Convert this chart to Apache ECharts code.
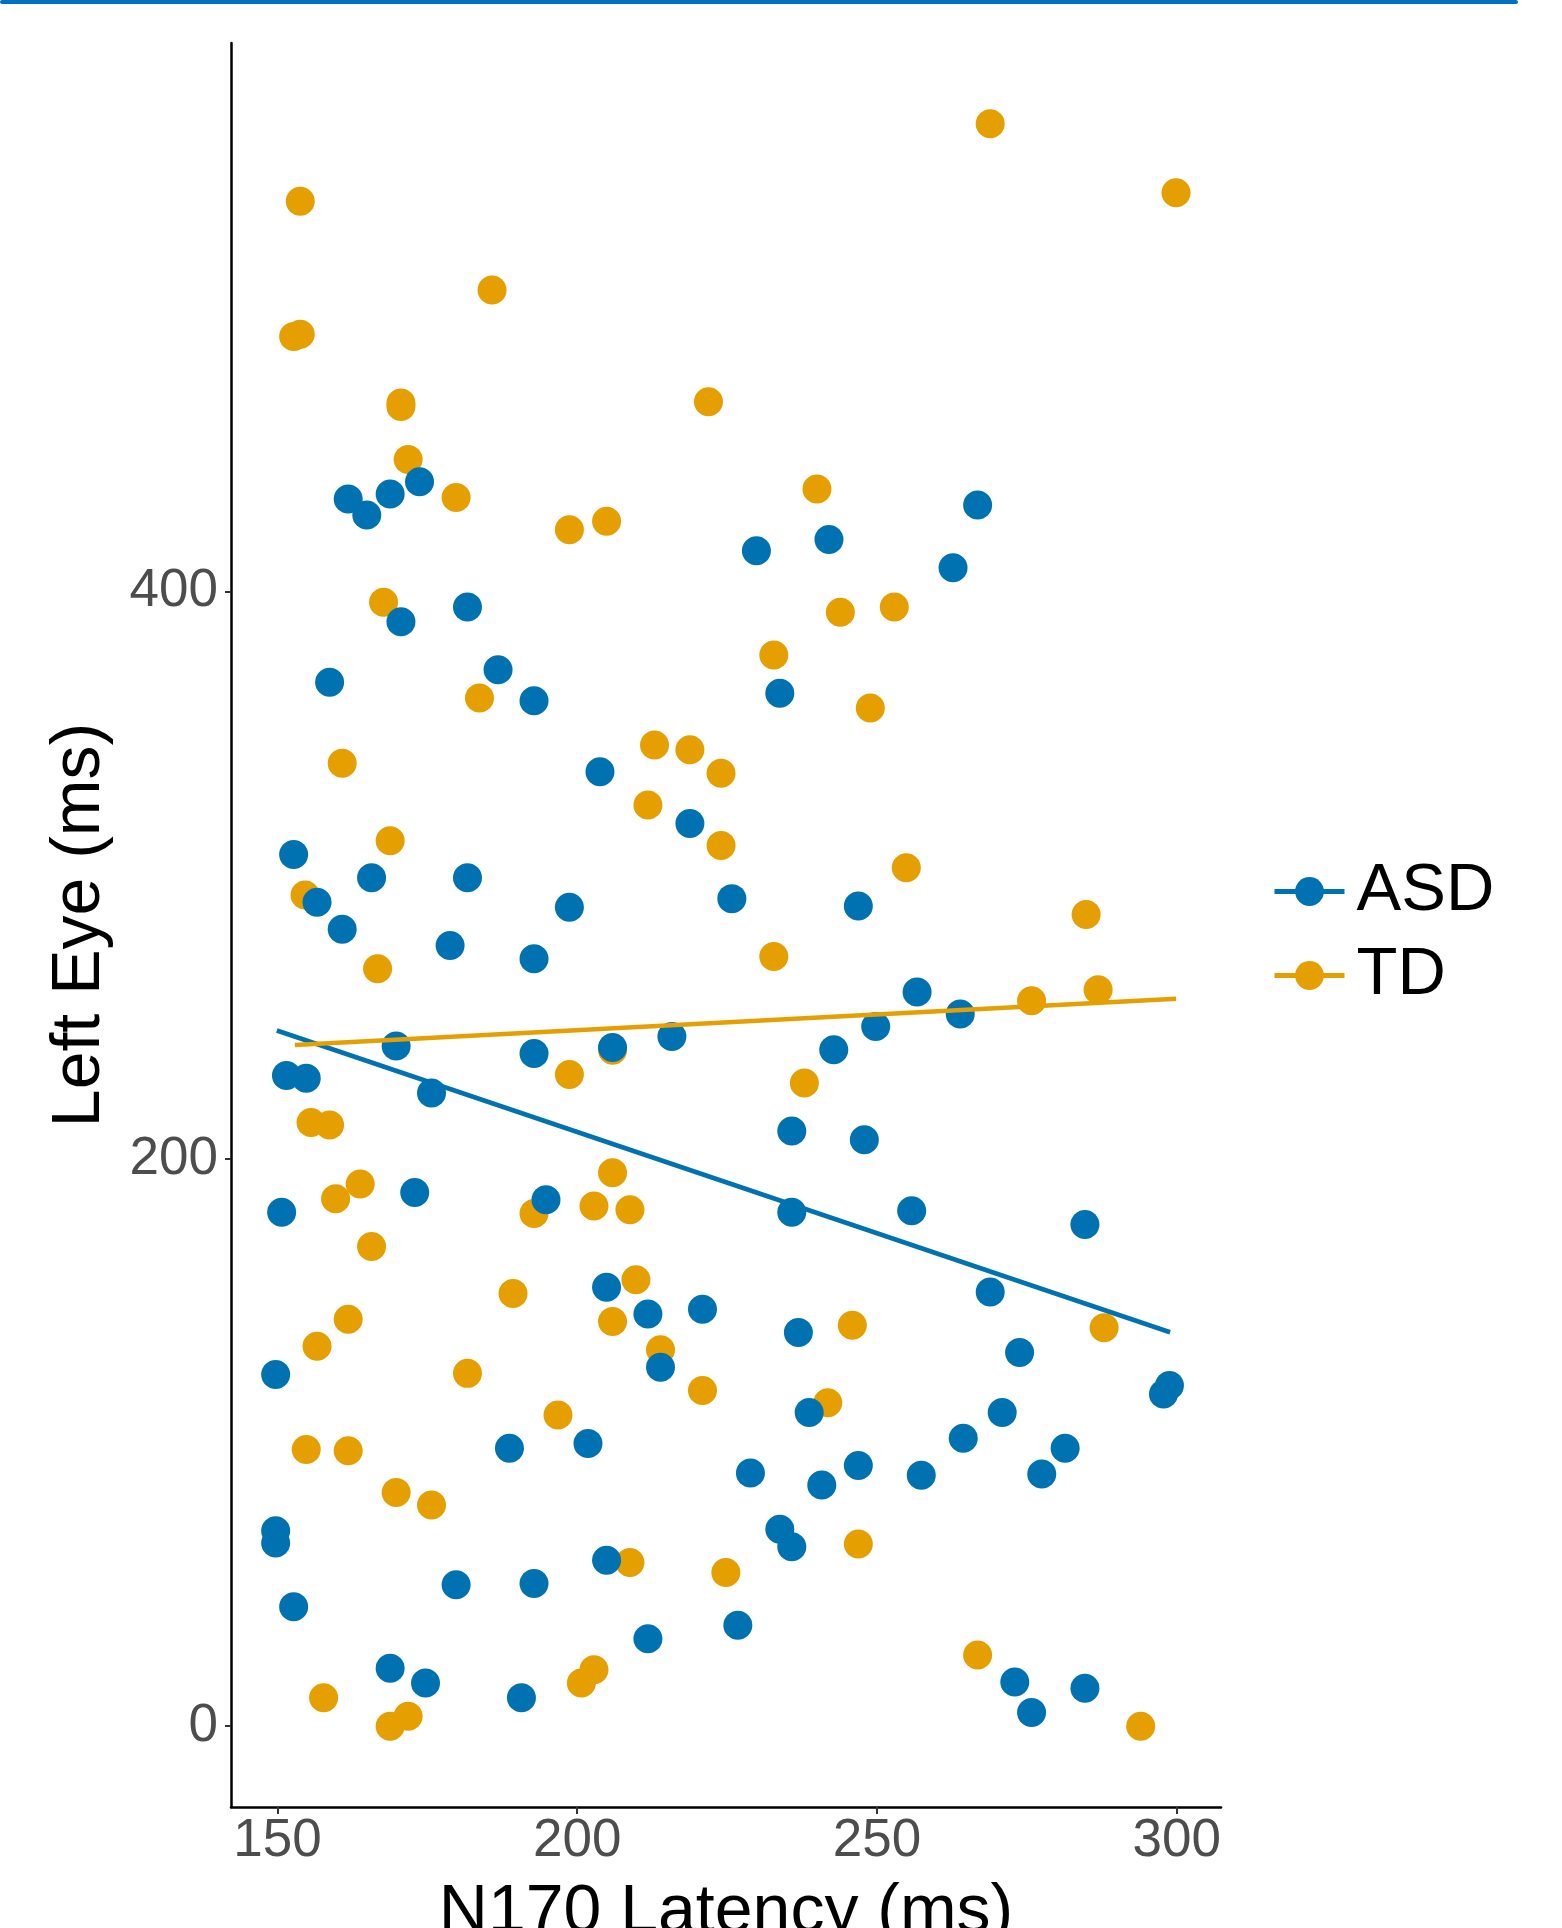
<!DOCTYPE html>
<html>
<head>
<meta charset="utf-8">
<script src="https://cdn.jsdelivr.net/npm/echarts@6/dist/echarts.min.js"></script>
<style>
html,body{margin:0;padding:0;background:#fff;overflow:hidden;}
#chart{width:1562px;height:1928px;}
</style>
</head>
<body>
<div id="chart"></div>
<script>
// ---- data ----
var groups = ['ASD', 'TD'];
var xTicks = [150, 200, 250, 300];
var yTicks = [0, 200, 400];

var asdX = [161.8,164.9,168.8,173.7,170.6,181.7,158.7,186.8,192.8,152.7,165.7,156.6,160.8,181.7,178.8,192.8,198.7,203.8,229.9,242.0,266.8,262.7,233.8,218.8,225.8,246.9,151.5,154.8,169.8,175.7,192.8,205.9,215.8,242.8,249.8,256.7,263.9,235.8,247.9,150.7,172.9,194.8,235.8,255.8,284.7,204.9,211.8,220.9,268.9,236.9,213.9,273.8,149.7,297.8,298.8,238.7,270.9,201.8,188.7,264.4,281.4,228.9,246.9,240.8,257.4,277.5,149.7,149.7,233.8,235.8,204.9,152.7,179.8,192.8,226.8,211.8,168.8,174.7,190.7,273.0,275.8,284.7];
var asdY = [432.7,427.1,434.5,438.8,389.4,394.6,368.1,372.5,361.6,307.4,299.2,290.5,281.0,299.2,275.3,270.6,288.8,336.5,414.5,418.4,430.6,408.5,364.2,318.3,291.8,289.2,229.4,228.5,239.8,223.3,237.2,239.3,243.2,238.5,246.7,258.9,251.1,209.9,206.8,181.2,188.2,185.6,181.2,181.7,176.9,154.8,145.3,147.0,153.1,138.8,126.6,131.8,124.0,117.1,120.1,110.6,110.6,99.7,98.0,101.5,98.0,89.3,91.9,85.0,88.5,88.9,68.9,64.6,69.4,63.3,58.5,42.1,49.9,50.3,35.6,30.8,20.4,15.2,10.0,15.6,4.8,13.4];

var tdX = [268.9,299.9,153.8,185.8,152.7,153.8,170.6,170.6,221.9,171.8,179.8,240.0,198.7,204.9,167.7,243.9,252.9,232.8,183.7,248.9,212.9,218.8,224.0,160.8,211.8,224.0,168.8,254.9,154.6,284.9,232.8,166.7,275.8,286.9,198.7,237.9,155.6,158.7,205.9,159.7,163.8,202.8,208.8,192.8,165.7,209.8,189.3,161.8,205.9,245.9,156.6,213.9,287.9,181.7,220.9,196.8,241.8,154.8,161.8,169.8,175.7,208.8,224.8,246.9,157.7,202.8,200.7,266.8,168.8,171.8,294.0,205.9];
var tdY = [565.0,540.7,537.7,506.4,490.0,490.8,466.6,465.3,467.0,446.6,433.2,436.2,421.9,424.9,396.3,392.8,394.6,377.7,362.5,359.0,346.0,344.3,336.0,339.5,324.8,310.5,312.2,302.7,293.1,286.2,271.4,267.1,255.8,259.7,229.8,226.8,212.9,212.0,195.1,186.0,191.2,183.4,182.1,180.8,169.1,157.4,152.6,143.5,142.7,141.4,134.0,132.7,140.5,124.4,118.4,109.7,114.0,97.6,97.1,82.4,78.0,57.7,54.2,64.2,10.0,19.9,15.2,25.1,0.0,3.5,0.0,238.3];

// fitted regression line end points
var asdFitX = [149.9, 298.9];
var asdFitY = [245.3, 138.9];
var tdFitX = [152.9, 299.9];
var tdFitY = [240.2, 256.5];

// ---- build ----
function pairs(xs, ys) {
  var out = [];
  for (var i = 0; i < xs.length; i++) out.push([xs[i], ys[i]]);
  return out;
}
var BLUE = '#0072B2', ORANGE = '#E69F00';
var FONT = '"Liberation Sans", Helvetica, Arial, sans-serif';

var chart = echarts.init(document.getElementById('chart'), null, {renderer: 'canvas', width: 1562, height: 1928});
chart.setOption({
  animation: false,
  backgroundColor: '#ffffff',
  textStyle: {fontFamily: FONT},
  graphic: [{
    type: 'rect',
    shape: {x: 0, y: 0, width: 1518, height: 4, r: 2},
    style: {fill: '#0070C0'},
    silent: true
  }],
  grid: {left: 231, top: 43, width: 990, height: 1764, containLabel: false, outerBoundsMode: 'none'},
  legend: {
    data: groups,
    orient: 'vertical',
    left: 1272,
    top: 858,
    padding: 0,
    itemWidth: 70,
    itemHeight: 36,
    itemGap: 17,
    selectedMode: false,
    lineStyle: {width: 5},
    textStyle: {fontSize: 67, color: '#000', fontFamily: FONT, padding: [0, 0, 0, 7]}
  },
  xAxis: {
    type: 'value',
    min: 142.25,
    max: 307.4,
    name: 'N170 Latency (ms)',
    nameLocation: 'middle',
    nameGap: 106,
    nameTextStyle: {fontSize: 68, color: '#000', fontFamily: FONT, verticalAlign: 'middle', lineHeight: 68},
    axisLine: {show: true, onZero: false, lineStyle: {color: '#000', width: 2.5}},
    axisTick: {show: true, customValues: xTicks, length: 7, lineStyle: {color: '#333', width: 2}},
    axisLabel: {customValues: xTicks, fontSize: 53, color: '#4D4D4D', margin: 8, lineHeight: 53, fontFamily: FONT},
    splitLine: {show: false}
  },
  yAxis: {
    type: 'value',
    min: -28.5,
    max: 593.5,
    name: 'Left Eye (ms)',
    nameLocation: 'middle',
    nameGap: 151,
    nameRotate: 90,
    nameTextStyle: {fontSize: 68, color: '#000', fontFamily: FONT, verticalAlign: 'middle', lineHeight: 68},
    axisLine: {show: true, onZero: false, lineStyle: {color: '#000', width: 2.5}},
    axisTick: {show: true, customValues: yTicks, length: 6, lineStyle: {color: '#333', width: 2}},
    axisLabel: {customValues: yTicks, fontSize: 53, color: '#4D4D4D', margin: 13, fontFamily: FONT},
    splitLine: {show: false}
  },
  series: [
    {
      name: 'ASD', type: 'line', data: pairs(asdFitX, asdFitY),
      symbol: 'circle', symbolSize: 29, showSymbol: false, silent: true, z: 5,
      lineStyle: {color: BLUE, width: 4.5}, itemStyle: {color: BLUE}
    },
    {
      name: 'TD', type: 'line', data: pairs(tdFitX, tdFitY),
      symbol: 'circle', symbolSize: 29, showSymbol: false, silent: true, z: 5,
      lineStyle: {color: ORANGE, width: 4.5}, itemStyle: {color: ORANGE}
    },
    {
      name: 'TD', type: 'scatter', data: pairs(tdX, tdY),
      symbol: 'circle', symbolSize: 29, z: 2, itemStyle: {color: ORANGE, opacity: 1}
    },
    {
      name: 'ASD', type: 'scatter', data: pairs(asdX, asdY),
      symbol: 'circle', symbolSize: 29, z: 3, itemStyle: {color: BLUE, opacity: 1}
    }
  ]
});
</script>
</body>
</html>
